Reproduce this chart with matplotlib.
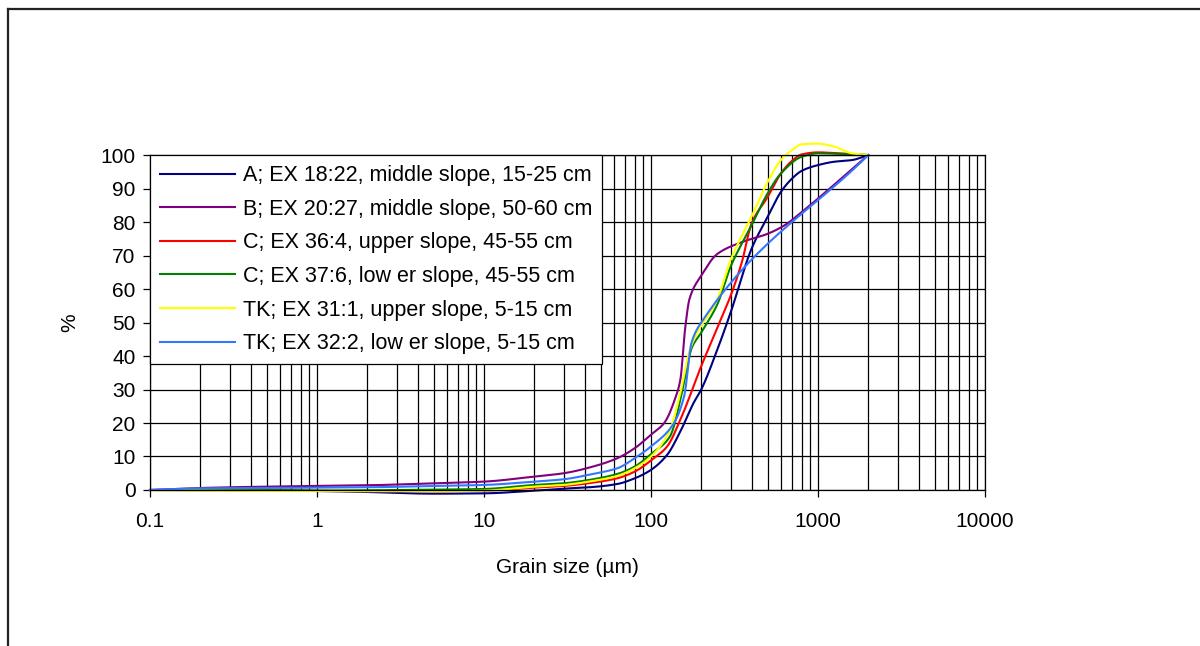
import numpy as np
import matplotlib.pyplot as plt
from matplotlib.lines import Line2D

plt.rcParams['font.family'] = ['Liberation Sans', 'DejaVu Sans']

# grain size (um) and cumulative % for each sample
x_a = [0.1, 0.2, 0.5, 1, 2, 5, 10, 20, 30, 45, 63, 80, 100, 125, 150, 180, 200, 250, 300, 400,
       500, 600, 700, 800, 1000, 1250, 1600, 2000]
y_a = [0, 0, -0.1, -0.3, -0.6, -1.1, -1.0, -0.2, 0.4, 0.9, 1.8, 3.5, 6, 10.5, 17.5, 26, 30, 42,
       53, 72, 81.6, 89, 93, 95.3, 97, 98, 98.5, 100]

x_b = [0.1, 0.2, 0.5, 1, 2, 5, 10, 20, 30, 45, 63, 80, 100, 120, 140, 150, 160, 170, 200, 250,
       350, 500, 630, 800, 2000]
y_b = [0, 0.6, 1.0, 1.2, 1.4, 2.0, 2.5, 4.0, 5.0, 7.0, 9.5, 12.5, 16.5, 20, 27.5, 33, 48, 57,
       64, 70.5, 74, 76.5, 79, 83, 100]

x_c36 = [0.1, 0.2, 0.5, 1, 2, 5, 10, 20, 30, 45, 63, 80, 100, 125, 150, 200, 250, 300, 350,
         400, 500, 600, 700, 800, 1000, 1250, 1600, 2000]
y_c36 = [0, 0, -0.2, -0.3, -0.3, -0.4, -0.2, 0.7, 1.2, 2.2, 3.5, 5.5, 8.8, 13, 21, 37, 48.5,
         58, 68, 79.5, 87.5, 94.5, 98.3, 100.2, 100.8, 100.6, 100.3, 100]

x_c37 = [0.1, 0.2, 0.5, 1, 2, 5, 10, 20, 30, 45, 63, 80, 100, 130, 150, 165, 175, 200, 250,
         300, 400, 500, 600, 800, 1000, 1250, 1600, 2000]
y_c37 = [0, 0, -0.1, -0.2, -0.1, 0.1, 0.3, 1.5, 2.0, 3.2, 4.8, 7.0, 10.7, 16, 27, 37, 42.3,
         47, 55.5, 66.7, 79, 88.6, 94.5, 99.5, 100.5, 100.4, 100.2, 100]

x_tk31 = [0.1, 0.2, 0.5, 1, 2, 5, 10, 20, 30, 45, 63, 80, 100, 130, 150, 170, 185, 250, 300,
          400, 500, 600, 700, 800, 1000, 1250, 1600, 2000]
y_tk31 = [0, -0.2, -0.3, -0.3, -0.3, -0.4, -0.2, 1.0, 1.5, 2.7, 4.2, 6.5, 10, 18, 29, 41.5,
          46, 57, 68.7, 81.6, 92, 98.5, 101.5, 103.2, 103.4, 102.5, 100.5, 100]

x_tk32 = [0.1, 0.2, 0.5, 1, 2, 5, 10, 20, 30, 45, 63, 80, 100, 135, 158, 175, 200, 2000]
y_tk32 = [0, 0.5, 0.6, 0.7, 0.8, 1.2, 1.5, 2.5, 3.2, 4.8, 6.5, 9.5, 13, 19.4, 28, 44, 50, 100]

labels = ['A; EX 18:22, middle slope, 15-25 cm',
          'B; EX 20:27, middle slope, 50-60 cm',
          'C; EX 36:4, upper slope, 45-55 cm',
          'C; EX 37:6, low er slope, 45-55 cm',
          'TK; EX 31:1, upper slope, 5-15 cm',
          'TK; EX 32:2, low er slope, 5-15 cm']
colors = ['#000080', '#800080', '#FF0000', '#008000', '#FFFF00', '#3377FF']
series = [(x_a, y_a), (x_b, y_b), (x_c36, y_c36), (x_c37, y_c37), (x_tk31, y_tk31), (x_tk32, y_tk32)]


def smooth(xs, ys, n=25):
    # smoothed line through the points (monotone cubic in log-x), like excel's smoothed lines
    lx = np.log10(np.array(xs, float))
    y = np.array(ys, float)
    h = np.diff(lx)
    d = np.diff(y) / h
    m = np.zeros_like(y)
    m[0], m[-1] = d[0], d[-1]
    for i in range(1, len(y) - 1):
        if d[i - 1] * d[i] > 0:
            w1 = 2 * h[i] + h[i - 1]
            w2 = h[i] + 2 * h[i - 1]
            m[i] = (w1 + w2) / (w1 / d[i - 1] + w2 / d[i])
    ox, oy = [], []
    t = np.linspace(0, 1, n)
    for i in range(len(y) - 1):
        h00 = 2 * t ** 3 - 3 * t ** 2 + 1
        h10 = t ** 3 - 2 * t ** 2 + t
        h01 = -2 * t ** 3 + 3 * t ** 2
        h11 = t ** 3 - t ** 2
        seg = h00 * y[i] + h10 * h[i] * m[i] + h01 * y[i + 1] + h11 * h[i] * m[i + 1]
        ox.append(lx[i] + t * h[i])
        oy.append(seg)
    return 10 ** np.concatenate(ox), np.concatenate(oy)


fig = plt.figure(figsize=(12, 6.46), dpi=100)
ax = fig.add_axes([0.125, 0.2415, 0.6958, 0.5185])

for (xs, ys), c, lab in zip(series, colors, labels):
    sx, sy = smooth(xs, ys)
    ax.plot(sx, sy, color=c, lw=1.5, label=lab, clip_on=False)

fs = 15
ax.set_xscale('log')
ax.set_xlim(0.1, 10000)
ax.set_ylim(0, 100)
ax.set_yticks(np.arange(0, 101, 10))
ax.set_xticks([0.1, 1, 10, 100, 1000, 10000])
ax.set_xticklabels(['0.1', '1', '10', '100', '1000', '10000'])
ax.grid(True, which='both', axis='x', color='black', lw=0.9)
ax.grid(True, which='major', axis='y', color='black', lw=0.9)
ax.tick_params(axis='both', which='major', direction='out', length=5, width=0.9,
               labelsize=fs, colors='black')
ax.tick_params(axis='x', which='minor', length=0)
ax.tick_params(axis='x', which='major', pad=11)
ax.tick_params(axis='y', which='major', pad=5.5)
for s in ax.spines.values():
    s.set_color('black')
    s.set_linewidth(0.9)
ax.set_axisbelow(True)

ax.set_xlabel('Grain size (\u00b5m)', fontsize=fs, labelpad=19)
ax.set_ylabel('%', fontsize=fs, labelpad=15)

leg = ax.legend(loc='upper left', bbox_to_anchor=(0, 1), borderaxespad=0, fontsize=15.5,
                frameon=True, fancybox=False, edgecolor='black', framealpha=1,
                handlelength=3.5, handletextpad=0.35, labelspacing=0.585, borderpad=0.47)
leg.get_frame().set_linewidth(0.9)

# outer chart frame
fig.add_artist(Line2D([8 / 1200, 1], [1 - 9 / 646, 1 - 9 / 646], color='#222222', lw=1.6))
fig.add_artist(Line2D([8 / 1200, 8 / 1200], [0, 1 - 9 / 646], color='#222222', lw=1.6))

fig.savefig('out.png', dpi=100, facecolor='white')
